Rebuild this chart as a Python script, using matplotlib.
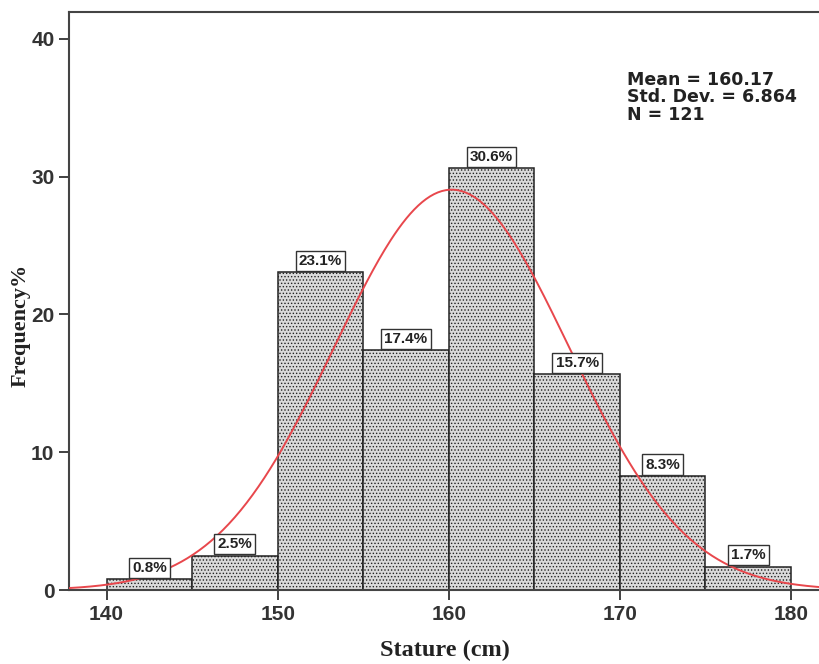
import numpy as np
import matplotlib.pyplot as plt

# Estatura (cm) - classes de 5 cm
bin_edges = [140, 145, 150, 155, 160, 165, 170, 175, 180]
percent = [0.8, 2.5, 23.1, 17.4, 30.6, 15.7, 8.3, 1.7]
pct_labels = ['0.8%', '2.5%', '23.1%', '17.4%', '30.6%', '15.7%', '8.3%', '1.7%']

mean = 160.17
std = 6.864
n = 121
x_ticks = [140, 150, 160, 170, 180]
y_ticks = [0, 10, 20, 30, 40]

plt.rcParams['hatch.color'] = '#8a8a8a'
plt.rcParams['hatch.linewidth'] = 0.6

fig = plt.figure(figsize=(8.2, 6.64), dpi=100)
ax = fig.add_axes([0.0841, 0.1114, 0.9159, 0.8706])

lefts = bin_edges[:-1]
widths = np.diff(bin_edges)
ax.bar(lefts, percent, width=widths, align='edge', facecolor='#dadada',
       edgecolor='#222222', linewidth=1.1, hatch='.....', zorder=2)

# curva normal ajustada (escala em %)
xs = np.linspace(137, 183, 400)
bw = widths[0]
ys = 100 * bw / (std * np.sqrt(2 * np.pi)) * np.exp(-0.5 * ((xs - mean) / std) ** 2)
ax.plot(xs, ys, color='#e8474c', linewidth=1.4, zorder=3)

for left, w, val, lab in zip(lefts, widths, percent, pct_labels):
    ax.annotate(lab, xy=(left + w / 2, val), xytext=(0, 3), textcoords='offset points',
                ha='center', va='bottom', fontsize=11, fontweight='bold',
                family='Liberation Sans', color='#222222', zorder=4,
                bbox=dict(boxstyle='square,pad=0.2', facecolor='white',
                          edgecolor='#333333', linewidth=1.0))

ax.text(0.743, 0.898, f'Mean = {mean:.2f}\nStd. Dev. = {std:.3f}\nN = {n}',
        transform=ax.transAxes, ha='left', va='top', fontsize=12.5, fontweight='bold',
        family='DejaVu Sans', color='#222222', linespacing=0.95)

ax.set_xlim(137.8, 181.7)
ax.set_ylim(0, 41.96)
ax.set_xticks(x_ticks)
ax.set_yticks(y_ticks)
ax.tick_params(direction='out', length=7, width=1.3, color='#333333',
               labelsize=15, labelcolor='#333333')
for lab in ax.get_xticklabels() + ax.get_yticklabels():
    lab.set_fontweight('bold')
    lab.set_family('Liberation Sans')

for s in ['left', 'bottom', 'top']:
    ax.spines[s].set_color('#444444')
    ax.spines[s].set_linewidth(1.5)
ax.spines['right'].set_visible(False)

ax.set_xlabel('Stature (cm)', fontsize=17.5, fontweight='bold', family='Liberation Serif',
              color='#222222', labelpad=12)
ax.set_ylabel('Frequency%', fontsize=16, fontweight='bold', family='Liberation Serif',
              color='#222222')
ax.yaxis.set_label_coords(-0.051, 0.457)

plt.savefig('out.png', dpi=100)
